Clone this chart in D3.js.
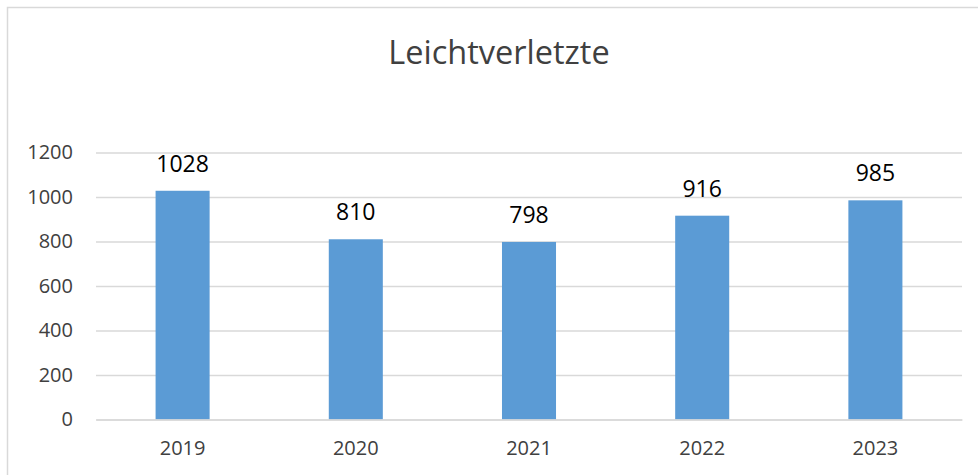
<!DOCTYPE html>
<html>
<head>
    <meta charset="utf-8">
    <title>Leichtverletzte</title>
    <script src="https://d3js.org/d3.v7.min.js"></script>
    <style>
        body { margin: 0; background: #fff; }
        text { font-family: "Open Sans", sans-serif; }
    </style>
</head>
<body>
<div id="chart"></div>
<script type="text/javascript">

    // data
    let years = ["2019", "2020", "2021", "2022", "2023"];
    let values = [1028, 810, 798, 916, 985];
    let yTicks = [0, 200, 400, 600, 800, 1000, 1200];
    let title = "Leichtverletzte";

    let width = 978, height = 475;
    let margin = {top: 152.5, right: 16, bottom: 55.5, left: 96};
    let w = width - margin.left - margin.right;
    let h = height - margin.top - margin.bottom;

    let svg = d3.select("#chart")
        .append("svg")
            .attr("width", width)
            .attr("height", height);

    // outer frame (only top and left visible)
    svg.append("rect")
        .attr("x", 7.5)
        .attr("y", 7.5)
        .attr("width", width)
        .attr("height", height)
        .attr("fill", "none")
        .attr("stroke", "#d9d9d9")
        .attr("stroke-width", 1.5);

    svg.append("text")
        .attr("x", 499)
        .attr("y", 63.5)
        .attr("text-anchor", "middle")
        .attr("font-size", "32.5px")
        .attr("fill", "#404040")
        .text(title);

    let g = svg.append("g")
        .attr("transform", "translate(" + margin.left + "," + margin.top + ")");

    let xScale = d3.scaleBand()
        .domain(years)
        .range([0, w])
        .paddingInner(0.688)
        .paddingOuter(0.344);

    let yScale = d3.scaleLinear()
        .domain([0, 1200])
        .range([h, 0]);

    // gridlines
    let yAxis = d3.axisLeft(yScale)
        .tickValues(yTicks)
        .tickFormat(d3.format("d"))
        .tickSize(-w)
        .tickPadding(23);

    let gy = g.append("g").call(yAxis);
    gy.select(".domain").remove();
    gy.selectAll(".tick line")
        .attr("stroke", "#d9d9d9")
        .attr("stroke-width", 1.5);
    gy.selectAll(".tick text")
        .attr("font-size", "20px")
        .attr("fill", "#404040")
        .attr("font-family", "Open Sans, sans-serif");

    // bars
    g.selectAll("rect.bar")
        .data(values)
        .enter()
        .append("rect")
        .attr("class", "bar")
        .attr("x", function(d, i) { return xScale(years[i]); })
        .attr("y", function(d) { return yScale(d); })
        .attr("width", xScale.bandwidth())
        .attr("height", function(d) { return h - yScale(d); })
        .attr("fill", "#5b9bd5");

    // x axis
    let xAxis = d3.axisBottom(xScale)
        .tickSize(0)
        .tickPadding(21);

    let gx = g.append("g")
        .attr("transform", "translate(0," + h + ")")
        .call(xAxis);
    gx.select(".domain")
        .attr("stroke", "#d9d9d9")
        .attr("stroke-width", 1.5);
    gx.selectAll(".tick text")
        .attr("font-size", "20px")
        .attr("fill", "#404040")
        .attr("font-family", "Open Sans, sans-serif");

    // data labels
    g.selectAll("text.label")
        .data(values)
        .enter()
        .append("text")
        .attr("class", "label")
        .attr("x", function(d, i) { return xScale(years[i]) + xScale.bandwidth() / 2; })
        .attr("y", function(d) { return yScale(d) - 19; })
        .attr("text-anchor", "middle")
        .attr("font-size", "23px")
        .attr("fill", "#000")
        .text(function(d) { return d; });

</script>
</body>
</html>
